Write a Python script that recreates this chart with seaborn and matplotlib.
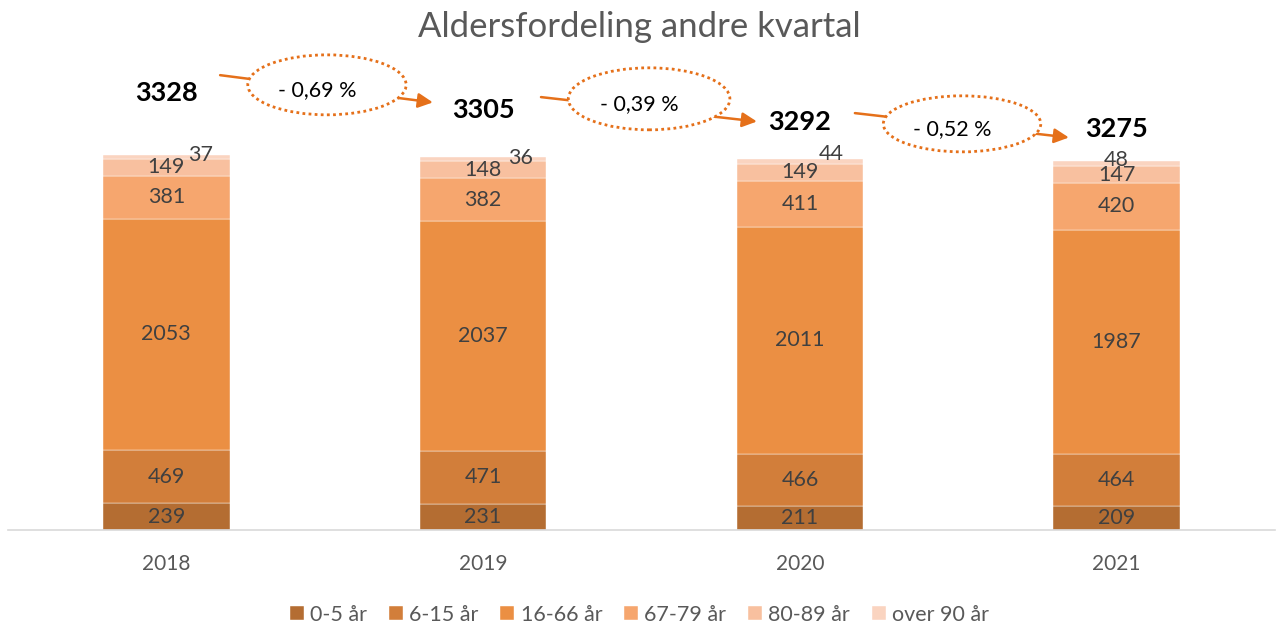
import matplotlib
matplotlib.use("Agg")
import matplotlib.pyplot as plt
from matplotlib.patches import Ellipse, FancyArrowPatch
import seaborn as sns
import numpy as np

# ---- data ----
years = ["2018", "2019", "2020", "2021"]
groups = ["0-5 år", "6-15 år", "16-66 år", "67-79 år", "80-89 år", "over 90 år"]
age_0_5 = [239, 231, 211, 209]
age_6_15 = [469, 471, 466, 464]
age_16_66 = [2053, 2037, 2011, 1987]
age_67_79 = [381, 382, 411, 420]
age_80_89 = [149, 148, 149, 147]
age_90 = [37, 36, 44, 48]
pct_labels = ["- 0,69 %", "- 0,39 %", "- 0,52 %"]

series = [age_0_5, age_6_15, age_16_66, age_67_79, age_80_89, age_90]
colors = ["#B46D32", "#D27E3A", "#EB8F43", "#F6A66E", "#F8C09F", "#FAD4C0"]

sns.set_theme(style="white")
plt.rcParams["font.family"] = ["Lato", "DejaVu Sans"]

fig = plt.figure(figsize=(12.79, 6.23), dpi=100)
ax = fig.add_axes([8 / 1279, 93 / 623, (1275 - 8) / 1279, (530 - 34) / 623])

bottom = np.zeros(len(years))
for name, vals, col in zip(groups, series, colors):
    sns.barplot(x=years, y=vals, bottom=bottom, color=col, width=0.4,
                ax=ax, label=name, saturation=1, edgecolor="white", linewidth=0.3)
    bottom = bottom + np.array(vals)
totals = bottom

ax.set_xlim(-0.5, 3.5)
ax.set_ylim(0, 4400)

# data labels
label_color = "#404040"
small_dx = [34, 37, 31, 0]   # pixel offsets for smallest segment labels
small_dy = [2, 1, 7, 4]
for i, cont in enumerate(ax.containers):
    if i < 5:
        ax.bar_label(cont, label_type="center", fontsize=15.5, color=label_color)
    else:
        for j, rect in enumerate(cont):
            xc = rect.get_x() + rect.get_width() / 2
            yc = rect.get_y() + rect.get_height() / 2
            ax.annotate(str(age_90[j]), (xc, yc), xytext=(small_dx[j] * 0.72, small_dy[j] * 0.72),
                        textcoords="offset points", ha="center", va="center",
                        fontsize=15.5, color=label_color)

# totals
total_y = [3878, 3727, 3621, 3559]
for j, t in enumerate(totals):
    ax.text(j, total_y[j], f"{int(t)}", ha="center", va="center",
            fontsize=19.5, fontweight="bold", color="black")

# arrows and ellipses
orange = "#E5701A"
arrows = [((0.161, 4038), (0.850, 3790)),
          ((1.174, 3843), (1.873, 3621)),
          ((2.165, 3701), (2.858, 3479))]
ells = [(0.507, 3949, 0.50, 532), (1.524, 3825, 0.51, 550), (2.512, 3603, 0.497, 497)]
for (s, e), (ex, ey, ew, eh), lab in zip(arrows, ells, pct_labels):
    arr = FancyArrowPatch(s, e, arrowstyle="-|>", mutation_scale=22, color=orange,
                          lw=1.8, clip_on=False, zorder=5)
    ax.add_patch(arr)
    el = Ellipse((ex, ey), ew, eh, facecolor="white", edgecolor=orange, lw=2,
                 linestyle=(0, (1, 1.2)), clip_on=False, zorder=6)
    ax.add_patch(el)
    ax.text(ex - 0.03, ey - 45, lab, ha="center", va="center", fontsize=15.5,
            color="black", zorder=7)

# axes styling
sns.despine(ax=ax, left=True, top=True, right=True)
ax.spines["bottom"].set_color("#D9D9D9")
ax.spines["bottom"].set_linewidth(1.2)
ax.set_yticks([])
ax.tick_params(axis="x", length=0, labelsize=15, labelcolor="#595959", pad=17)
ax.set_xlabel("")
ax.set_ylabel("")
if ax.legend_:
    ax.legend_.remove()

fig.suptitle("Aldersfordeling andre kvartal", y=0.982, va="top", fontsize=25, color="#595959")

handles, labels = ax.get_legend_handles_labels()
fig.legend(handles, labels, loc="lower center", bbox_to_anchor=(0.5, -0.034), ncol=6,
           frameon=False, fontsize=15.5, labelcolor="#595959",
           handlelength=0.65, handleheight=0.65, handletextpad=0.3, columnspacing=1.0)

fig.savefig("out.png", dpi=100)
